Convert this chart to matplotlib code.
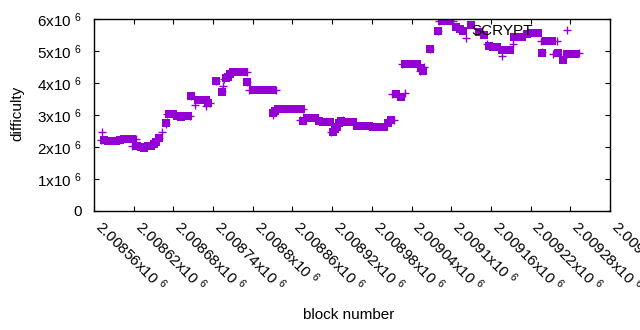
import matplotlib
matplotlib.use('Agg')
import matplotlib.pyplot as plt
from matplotlib.ticker import FixedLocator, FuncFormatter

plt.rcParams['font.family'] = ['Liberation Sans', 'DejaVu Sans']
plt.rcParams['mathtext.fontset'] = 'custom'
plt.rcParams['mathtext.rm'] = 'Liberation Sans'
plt.rcParams['mathtext.it'] = 'Liberation Sans:italic'
plt.rcParams['mathtext.bf'] = 'Liberation Sans:bold'

# blocks drawn as filled squares
sq_block = [2008575, 2008581, 2008587, 2008593, 2008599, 2008605, 2008611, 2008617,
            2008625, 2008631, 2008636, 2008642, 2008646, 2008651, 2008654, 2008658,
            2008669, 2008673, 2008679, 2008685, 2008691, 2008698, 2008702, 2008707,
            2008717, 2008723, 2008729, 2008733, 2008744, 2008753, 2008760, 2008763,
            2008766, 2008770, 2008776, 2008782, 2008787, 2008792, 2008800, 2008806,
            2008812, 2008818, 2008824, 2008829, 2008831, 2008834, 2008838, 2008844,
            2008850, 2008856, 2008862, 2008868, 2008873, 2008876, 2008882, 2008888,
            2008894, 2008900, 2008906, 2008912, 2008917, 2008921, 2008924, 2008927,
            2008930, 2008934, 2008939, 2008945, 2008951, 2008958, 2008964, 2008970,
            2008976, 2008982, 2008988, 2008994, 2008998, 2009004, 2009009, 2009017,
            2009024, 2009030, 2009036, 2009042, 2009048, 2009055, 2009057, 2009068,
            2009080, 2009086, 2009092, 2009098, 2009107, 2009113, 2009118, 2009130,
            2009142, 2009150, 2009157, 2009163, 2009169, 2009177, 2009183, 2009189,
            2009195, 2009201, 2009207, 2009215, 2009221, 2009227, 2009231, 2009237,
            2009243, 2009248, 2009252, 2009261, 2009269, 2009275, 2009281, 2009287]
sq_diff = [2219000, 2187500, 2187500, 2203000, 2234000, 2250000, 2250000, 2250000,
           2031000, 2000000, 1984000, 2016000, 2031000, 2094000, 2156000, 2291000,
           2741000, 3016000, 3016000, 2984000, 2938000, 2969000, 2984000, 3609000,
           3469000, 3469000, 3469000, 3366000, 4063000, 3728000, 4141000, 4203000,
           4266000, 4334000, 4344000, 4344000, 4334000, 4022000, 3781000, 3781000,
           3781000, 3781000, 3781000, 3781000, 3053000, 3125000, 3178000, 3178000,
           3178000, 3178000, 3178000, 3178000, 3178000, 2822000, 2897000, 2906000,
           2897000, 2797000, 2772000, 2772000, 2772000, 2459000, 2563000, 2634000,
           2741000, 2813000, 2772000, 2772000, 2772000, 2666000, 2666000, 2666000,
           2666000, 2634000, 2634000, 2634000, 2634000, 2741000, 2844000, 3647000,
           3572000, 4584000, 4584000, 4584000, 4584000, 4459000, 4384000, 5053000,
           5616000, 5938000, 5938000, 5938000, 5750000, 5672000, 5625000, 5797000,
           5594000, 5500000, 5156000, 5125000, 5125000, 5031000, 5031000, 5031000,
           5438000, 5422000, 5431000, 5516000, 5563000, 5563000, 5547000, 4953000,
           5303000, 5303000, 5303000, 4953000, 4719000, 4916000, 4916000, 4916000]

# SCRYPT blocks drawn as plus marks
plus_block = [2008572, 2008571, 2008624, 2008617, 2008658, 2008663, 2008669, 2008670,
              2008705, 2008707, 2008713, 2008730, 2008735, 2008744, 2008753, 2008755,
              2008757, 2008791, 2008792, 2008795, 2008835, 2008830, 2008876, 2008871,
              2008919, 2008937, 2009014, 2009010, 2009030, 2009025, 2009059, 2009053,
              2009068, 2009080, 2009082, 2009103, 2009122, 2009154, 2009176, 2009193,
              2009236, 2009260, 2009237, 2009254, 2009269, 2009293]
plus_diff = [2469000, 2219000, 2250000, 2031000, 2291000, 2478000, 2719000, 3022000,
             2978000, 3609000, 3313000, 3281000, 3366000, 4063000, 3759000, 3916000,
             4134000, 4334000, 4022000, 3781000, 3781000, 3000000, 3178000, 2844000,
             2478000, 2844000, 2844000, 3647000, 3678000, 4584000, 4509000, 4375000,
             5053000, 5616000, 5938000, 5938000, 5397000, 5209000, 4853000, 5219000,
             5303000, 5303000, 4959000, 4906000, 4772000, 4938000]

x_ticks = [2008560 + 60 * i for i in range(14)]
y_ticks = [0, 1e6, 2e6, 3e6, 4e6, 5e6, 6e6]

color = '#9400d3'

fig = plt.figure(figsize=(6.4, 3.3), dpi=100)
ax = fig.add_axes([94 / 640, 1 - 211 / 330, 516 / 640, 192 / 330])

ax.plot(sq_block, sq_diff, 's', color=color, markersize=5.2, markeredgewidth=0)
ax.plot(plus_block, plus_diff, '+', color=color, markersize=6, markeredgewidth=1.0,
        label='SCRYPT')

ax.set_xlim(2008560, 2009340)
ax.set_ylim(0, 6e6)
ax.xaxis.set_major_locator(FixedLocator(x_ticks))
ax.yaxis.set_major_locator(FixedLocator(y_ticks))


def fmt_x(v, pos):
    s = f'{v / 1e6:.5f}'.rstrip('0')
    return s + 'x10 $^{6}$'


def fmt_y(v, pos):
    if v == 0:
        return '0'
    return f'{int(round(v / 1e6))}x10 $^{{6}}$'


ax.xaxis.set_major_formatter(FuncFormatter(fmt_x))
ax.yaxis.set_major_formatter(FuncFormatter(fmt_y))
ax.tick_params(direction='in', top=True, right=True, length=3.5, width=0.8,
               labelsize=11, colors='black')
ax.tick_params(axis='y', pad=9)
ax.tick_params(axis='x', pad=12)
for lbl in ax.get_xticklabels():
    lbl.set_rotation(-45)
    lbl.set_ha('left')
    lbl.set_va('baseline')
    lbl.set_rotation_mode('anchor')
for sp in ax.spines.values():
    sp.set_linewidth(1.0)

ax.legend(loc='center right', bbox_to_anchor=(0.958, 0.9375), borderaxespad=0,
          frameon=False, markerfirst=False, handlelength=2, handletextpad=1.2,
          fontsize=11)

fig.text(17 / 640, 1 - 113 / 330, 'difficulty', rotation=90, ha='center', va='center',
         fontsize=11)
fig.text(349 / 640, 1 - 315 / 330, 'block number', ha='center', va='center', fontsize=11)

fig.savefig('out.png', dpi=100)
